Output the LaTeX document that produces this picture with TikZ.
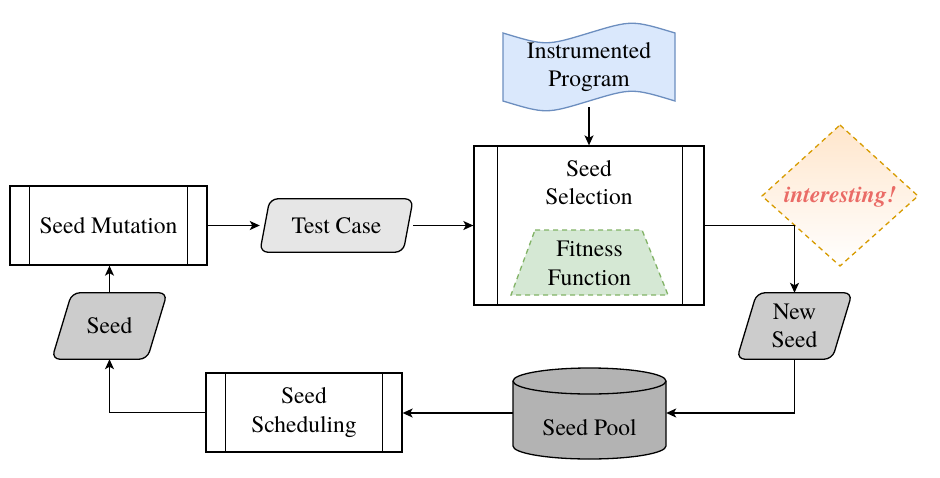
\documentclass[tikz,border=0pt]{standalone}
\usepackage{fontspec}
\IfFontExistsTF{texgyretermes-regular.otf}{%
  \setmainfont{texgyretermes}[Extension=.otf, UprightFont=*-regular, BoldFont=*-bold, ItalicFont=*-italic, BoldItalicFont=*-bolditalic]%
}{}
\usetikzlibrary{arrows.meta}
\definecolor{progfill}{HTML}{DAE8FC}
\definecolor{progdraw}{HTML}{6C8EBF}
\definecolor{fitfill}{HTML}{D5E8D4}
\definecolor{fitdraw}{HTML}{82B366}
\definecolor{intdraw}{HTML}{D79B00}
\definecolor{inttop}{HTML}{FFE6CC}
\definecolor{inttext}{HTML}{EA6B66}
\definecolor{tcfill}{HTML}{E6E6E6}
\definecolor{seedfill}{HTML}{CCCCCC}
\definecolor{poolfill}{HTML}{B3B3B3}
\pgfdeclarelayer{bg}
\pgfsetlayers{bg,main}
\tikzset{
  lbl/.style={font=\rmfamily\fontsize{23.5}{28.5}\selectfont, align=center, inner sep=0pt},
  box/.style={draw, line width=1.3pt, fill=white, inner sep=0pt},
  conn/.style={line width=1.3pt, -{Stealth[length=10pt,width=9pt,inset=2.5pt]}},
  plain/.style={line width=1.3pt},
  para/.style={draw, line width=1.3pt, rounded corners=8pt},
}
\begin{document}
\begin{tikzpicture}[x=1pt,y=-1pt]
\useasboundingbox (0,0) rectangle (940,477);

% Instrumented Program
\begin{pgfonlayer}{bg}
\draw[progdraw, fill=progfill, line width=1.3pt]
  (503,33) .. controls (546,46) .. (589,33) .. controls (632,20) .. (675,33)
  -- (675,101) .. controls (632,88) .. (589,101) .. controls (546,114) .. (503,101) -- cycle;
\end{pgfonlayer}
\node[lbl, minimum width=172pt, minimum height=80pt] (prog) at (589,67) {Instrumented\\Program};

% Seed Mutation
\node[box, lbl, minimum width=197pt, minimum height=79pt] (smut) at (108.5,225.5) {Seed Mutation};
\draw[plain] ([xshift=20pt]smut.north west) -- ([xshift=20pt]smut.south west);
\draw[plain] ([xshift=-20pt]smut.north east) -- ([xshift=-20pt]smut.south east);

% Test Case
\node[lbl, minimum width=153pt, minimum height=53pt] (tc) at (336.5,225.5) {Test Case};
\begin{pgfonlayer}{bg}
\draw[para, fill=tcfill] ([xshift=10pt]tc.north west) -- (tc.north east)
  -- ([xshift=-10pt]tc.south east) -- (tc.south west) -- cycle;
\end{pgfonlayer}

% Seed Selection
\node[box, minimum width=230pt, minimum height=159pt] (sel) at (589,225.5) {};
\draw[plain] ([xshift=24pt]sel.north west) -- ([xshift=24pt]sel.south west);
\draw[plain] ([xshift=-22pt]sel.north east) -- ([xshift=-22pt]sel.south east);
\node[lbl] (seltxt) at (589,182.5) {Seed\\Selection};

% Fitness Function
\draw[fitdraw, fill=fitfill, line width=1.3pt, dash pattern=on 5pt off 4pt]
  (535,230) -- (642,230) -- (668,295) -- (511,295) -- cycle;
\node[lbl] (fit) at (589.5,263.5) {Fitness\\Function};

% interesting!
\begin{pgfonlayer}{bg}
\shade[top color=inttop, bottom color=white] (840,125) -- (918,196) -- (840,266) -- (762,196) -- cycle;
\draw[intdraw, line width=1.3pt, dash pattern=on 5pt off 4pt] (840,125) -- (918,196) -- (840,266) -- (762,196) -- cycle;
\end{pgfonlayer}
\node[lbl, text=inttext, font=\rmfamily\fontsize{23.5}{28.5}\selectfont\bfseries\itshape] (int) at (840,197) {interesting!};

% New Seed
\node[lbl, minimum width=115pt, minimum height=66pt] (ns) at (794.5,326) {New\\Seed};
\begin{pgfonlayer}{bg}
\draw[para, fill=seedfill] ([xshift=20pt]ns.north west) -- (ns.north east)
  -- ([xshift=-20pt]ns.south east) -- (ns.south west) -- cycle;
\end{pgfonlayer}

% Seed Pool
\node[minimum width=153pt, minimum height=91pt, inner sep=0pt] (pool) at (589.5,413) {};
\begin{pgfonlayer}{bg}
\draw[fill=poolfill, line width=1.3pt] (513,381) -- (513,446)
  arc[start angle=180, end angle=360, x radius=76.5pt, y radius=13pt]
  -- (666,381)
  arc[start angle=0, end angle=180, x radius=76.5pt, y radius=13pt] -- cycle;
\draw[line width=1.3pt] (513,381)
  arc[start angle=180, end angle=360, x radius=76.5pt, y radius=13pt];
\end{pgfonlayer}
\node[lbl] (pooltxt) at (589.5,428) {Seed Pool};

% Seed Scheduling
\node[box, lbl, minimum width=196pt, minimum height=79pt] (sched) at (304,412.5) {Seed\\Scheduling};
\draw[plain] ([xshift=20pt]sched.north west) -- ([xshift=20pt]sched.south west);
\draw[plain] ([xshift=-20pt]sched.north east) -- ([xshift=-20pt]sched.south east);

% Seed
\node[lbl, minimum width=115pt, minimum height=66pt] (seed) at (109.5,326) {Seed};
\begin{pgfonlayer}{bg}
\draw[para, fill=seedfill] ([xshift=20pt]seed.north west) -- (seed.north east)
  -- ([xshift=-20pt]seed.south east) -- (seed.south west) -- cycle;
\end{pgfonlayer}

% connectors
\draw[conn] (prog.south) -- (sel.north);
\draw[conn] (smut.east) -- (tc.west);
\draw[conn] (tc.east) -- (sel.west);
\draw[conn] (sel.east) -| (ns.north);
\draw[conn] (ns.south) |- (pool.east);
\draw[conn] (pool.west) -- (pool.west -| sched.east);
\draw[conn] (sched.west) -| (seed.south);
\draw[conn] (seed.north) -- (seed.north |- smut.south);
\end{tikzpicture}
\end{document}
